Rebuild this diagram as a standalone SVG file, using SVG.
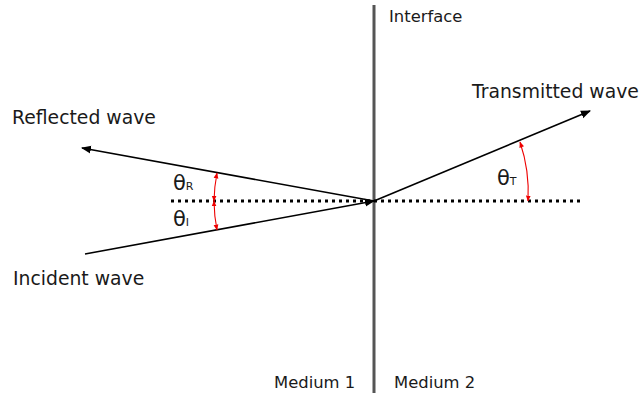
<svg xmlns="http://www.w3.org/2000/svg" width="642" height="395" viewBox="0 0 642 395">
<style>
text{font-family:"DejaVu Sans",Verdana,sans-serif;fill:#1a1a1a}
.big{font-size:18.8px}
.small{font-size:16.4px}
.theta{font-size:21px}
.sub{font-size:11px}
.wave{stroke:#000;stroke-width:1.6;fill:none}
.angle{stroke:#e00;stroke-width:1.1;fill:none}
</style>
<defs>
<marker id="ah" viewBox="0 0 10 10" refX="9" refY="5" markerWidth="10" markerHeight="10" markerUnits="userSpaceOnUse" orient="auto"><path d="M0,1 L10,5 L0,9 Z" fill="#000"/></marker>
<marker id="ra" viewBox="0 0 10 10" refX="9" refY="5" markerWidth="6" markerHeight="6" markerUnits="userSpaceOnUse" orient="auto"><path d="M0,1 L10,5 L0,9 Z" fill="#e00"/></marker>
<marker id="rs" viewBox="0 0 10 10" refX="1" refY="5" markerWidth="6" markerHeight="6" markerUnits="userSpaceOnUse" orient="auto"><path d="M10,1 L0,5 L10,9 Z" fill="#e00"/></marker>
</defs>
<g id="interface"><line x1="374" y1="5" x2="374" y2="393" stroke="#555" stroke-width="3"/><text class="small" x="389" y="22">Interface</text></g>
<g id="normal"><line x1="171" y1="201" x2="582" y2="201" stroke="#000" stroke-width="3" stroke-dasharray="3 4"/></g>
<g id="connectors">
<line class="wave" x1="85" y1="254" x2="374" y2="201" marker-end="url(#ah)"/>
<line class="wave" x1="374" y1="201" x2="82" y2="148" marker-end="url(#ah)"/>
<line class="wave" x1="374" y1="201" x2="590" y2="111" marker-end="url(#ah)"/>
<path class="angle" d="M217,173 A160,160 0 0 0 214,201" marker-start="url(#rs)" marker-end="url(#ra)"/>
<path class="angle" d="M214,201 A160,160 0 0 0 217,230" marker-start="url(#rs)" marker-end="url(#ra)"/>
<path class="angle" d="M520,142 A156,156 0 0 1 528,201" marker-start="url(#rs)" marker-end="url(#ra)"/>
</g>
<g id="reflected"><text class="big" x="12" y="124">Reflected wave</text></g>
<g id="incident"><text class="big" x="13" y="285">Incident wave</text></g>
<g id="transmitted"><text class="big" x="472" y="98">Transmitted wave</text></g>
<g id="thetaR"><text class="theta" x="173" y="190">θ<tspan class="sub">R</tspan></text></g>
<g id="thetaI"><text class="theta" x="173" y="226">θ<tspan class="sub">I</tspan></text></g>
<g id="thetaT"><text class="theta" x="497" y="185">θ<tspan class="sub">T</tspan></text></g>
<g id="medium1"><text class="small" x="274" y="388">Medium 1</text></g>
<g id="medium2"><text class="small" x="394" y="388">Medium 2</text></g>
</svg>
